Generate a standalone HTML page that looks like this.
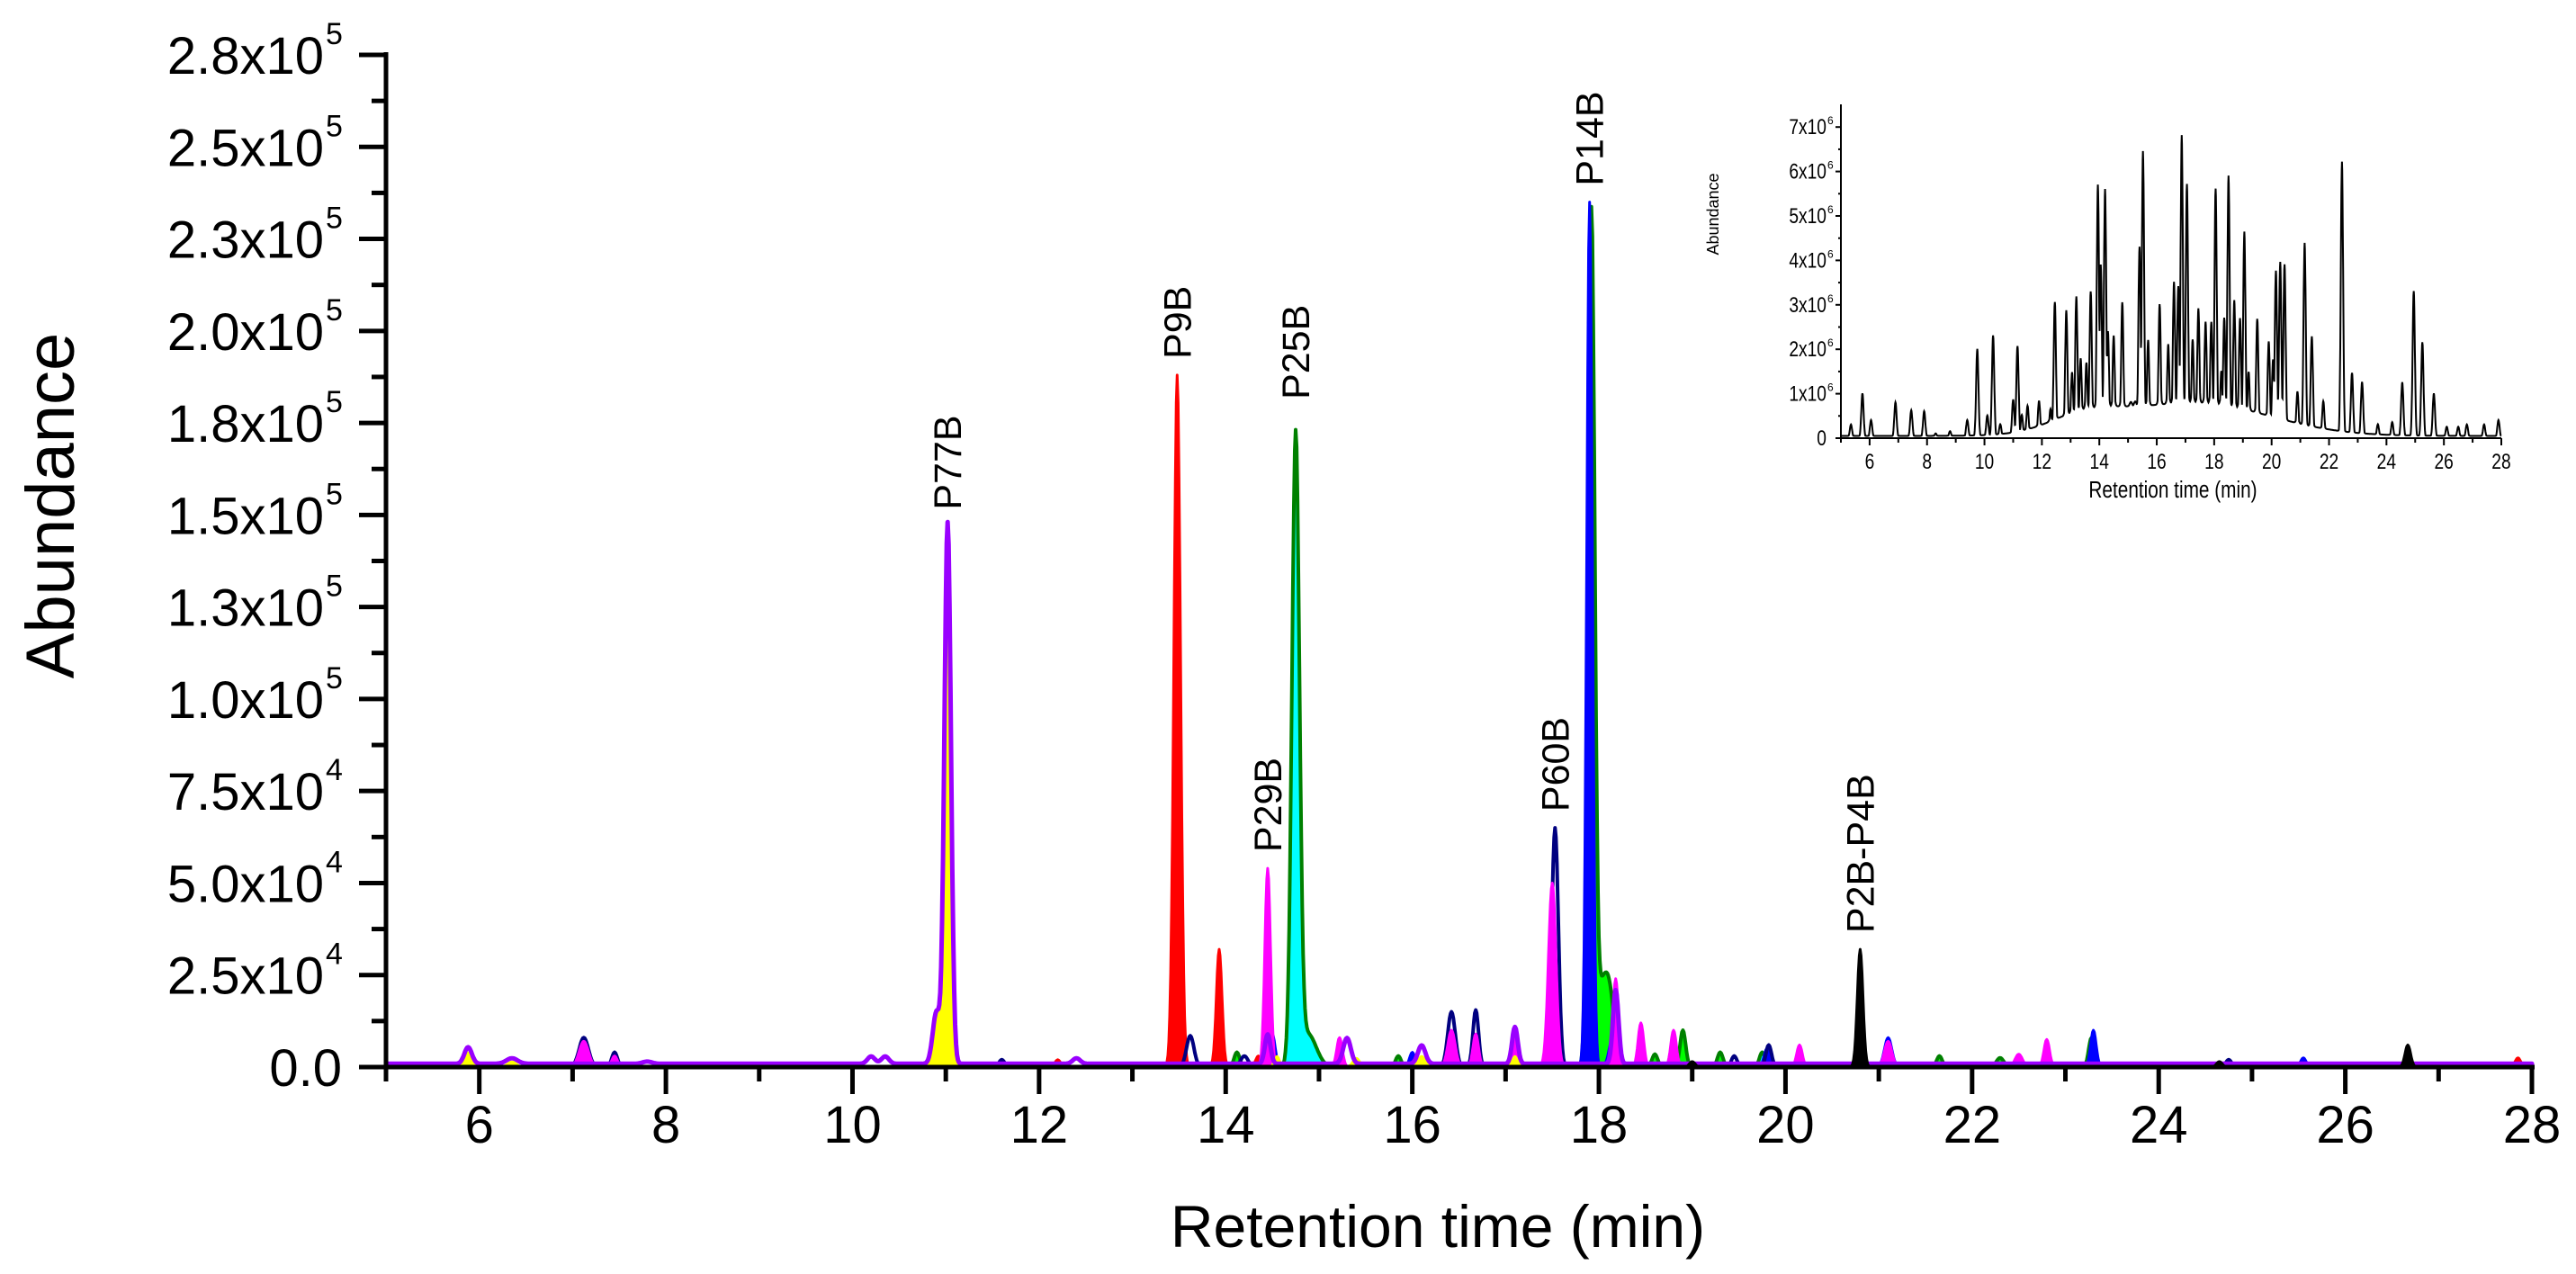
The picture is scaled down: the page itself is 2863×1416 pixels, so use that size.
<!DOCTYPE html>
<html><head><meta charset="utf-8"><style>
html,body{margin:0;padding:0;background:#fff;}
svg{display:block;font-family:"Liberation Sans",Arial,sans-serif;}
</style></head><body>
<svg id="chart" width="2863" height="1416" viewBox="0 0 2863 1416" xmlns="http://www.w3.org/2000/svg">
<g id="series"></g>
<g id="axes"></g>
<g id="labels"></g>
<g id="inset"></g>
<text transform="translate(82,562) rotate(-90)" text-anchor="middle" font-size="76">Abundance</text>
<text x="1598" y="1386" text-anchor="middle" font-size="66">Retention time (min)</text>
</svg>
<script>
// ---- main chart data ----
const xTicks = [6,8,10,12,14,16,18,20,22,24,26,28];
const yTickValues = [0,25000,50000,75000,100000,125000,150000,175000,200000,225000,250000,275000];
const yTickLabels = ["0.0","2.5x10|4","5.0x10|4","7.5x10|4","1.0x10|5","1.3x10|5","1.5x10|5","1.8x10|5","2.0x10|5","2.3x10|5","2.5x10|5","2.8x10|5"];
const seriesNames = ["red","cyan","green","blue","navy","magenta","yellow","purple","black"];
const purpleBaseline = 900;
const redPeaks = [[13.48,188000,.035],[13.93,32000,.03],[12.2,2000,.03],[27.85,2500,.03],[14.35,3000,.03]];
const cyanPeaks = [[14.75,170000,.04],[14.88,9000,.09],[19.75,4000,.03],[21.12,3000,.03]];
const greenPeaks = [[17.92,230000,.035],[18.03,20000,.06],[18.12,16000,.05],[18.9,10000,.03],[19.3,4000,.03],[21.65,3000,.03],[22.3,2500,.04],[23.28,8000,.03],[14.12,4000,.03],[15.85,3000,.03],[18.6,3500,.03]];
const bluePeaks = [[17.9,235000,.03],[21.1,8000,.04],[23.3,10000,.03],[16.0,4000,.03],[19.8,5000,.03],[25.55,2500,.03],[18.15,8000,.04],[22.8,6000,.03],[14.5,9000,.03]];
const navyPeaks = [[7.12,8000,.05],[7.45,4000,.03],[13.62,8500,.04],[16.42,15000,.04],[16.68,15500,.03],[17.53,65000,.035],[19.82,6000,.03],[24.75,2000,.03],[11.6,2000,.03],[19.45,3000,.03],[14.2,3000,.04]];
const magentaPeaks = [[7.12,7000,.05],[7.45,3000,.03],[14.45,54000,.03],[17.5,50000,.04],[16.42,10000,.04],[16.68,9000,.03],[18.18,24000,.03],[18.45,12000,.03],[18.8,10000,.03],[20.15,6000,.03],[21.1,7000,.04],[22.8,7500,.03],[22.5,3500,.04],[15.22,8000,.03],[17.1,10000,.03]];
const yellowPeaks = [[11.02,130000,.04],[10.9,12000,.05],[5.88,4000,.04],[6.35,1500,.05],[14.55,3000,.03],[16.1,3000,.04],[17.1,3000,.03],[21.5,1000,.04],[15.4,2500,.04]];
const purplePeaks = [[11.02,147000,.035],[10.9,14000,.04],[5.88,4500,.04],[6.35,1500,.06],[10.2,2000,.04],[10.35,2000,.04],[12.4,1500,.04],[14.45,8000,.03],[16.1,5000,.04],[17.1,10000,.03],[18.18,20000,.03],[15.3,7000,.04],[7.8,600,.05]];
const blackPeaks = [[20.8,32000,.03],[26.67,6000,.03],[24.65,1500,.03],[19.0,1500,.03]];
const labelNames = ["P77B","P9B","P29B","P25B","P60B","P14B","P2B-P4B"];
const labelTimes = [11.02,13.48,14.45,14.75,17.53,17.9,20.8];
const labelHeights = [147000,188000,54000,177000,65000,235000,32000];
// ---- inset data ----
const insetXTicks = [6,8,10,12,14,16,18,20,22,24,26,28];
const insetYTicks = [0,1,2,3,4,5,6,7];
const insetPeaks = [[5.35,.3],[5.75,1.0],[6.05,.4],[6.9,.8],[7.45,.62],[7.9,.6],[8.3,.1],[8.8,.15],[9.4,.4],[9.75,2.0],[10.1,.5],[10.3,2.3],[10.55,.3],[11.0,.85],[11.15,2.05],[11.3,.5],[11.5,.7],[11.9,.8],[12.3,.6],[12.45,3.0],[12.85,2.8],[13.05,1.4],[13.2,3.1],[13.35,1.7],[13.55,1.6],[13.7,3.2],[13.95,5.6],[14.05,3.8],[14.2,5.5],[14.3,2.3],[14.5,2.2],[14.8,2.95],[15.1,.65],[15.25,.7],[15.4,4.2],[15.52,6.35],[15.7,2.1],[16.1,2.9],[16.4,2.0],[16.6,3.4],[16.75,3.3],[16.87,6.7],[17.05,5.6],[17.25,2.1],[17.45,2.8],[17.7,2.5],[17.9,2.5],[18.05,5.5],[18.25,1.4],[18.35,2.6],[18.5,5.8],[18.7,3.0],[18.9,2.6],[19.05,4.55],[19.2,1.4],[19.5,2.6],[19.9,2.1],[20.05,1.7],[20.15,3.7],[20.3,3.9],[20.45,3.85],[20.9,1.0],[21.15,4.35],[21.4,2.25],[21.8,.8],[22.45,6.2],[22.8,1.45],[23.15,1.25],[23.7,.3],[24.2,.35],[24.55,1.25],[24.95,3.3],[25.25,2.15],[25.65,1.0],[26.1,.25],[26.5,.25],[26.8,.3],[27.4,.3],[27.9,.4]];
const insetBroad = [[17.3,0.75,2.6],[13.5,0.35,1.2]];

const NS = "http://www.w3.org/2000/svg";
function mk(tag, attrs, parent){const e=document.createElementNS(NS,tag);for(const k in attrs)e.setAttribute(k,attrs[k]);parent.appendChild(e);return e;}
const X0=429, X1=2814, Y0=1186, YT=61;
const xs = t => X0 + (t-5)/(28-5)*(X1-X0);
const ys = v => Y0 - v/275000*(Y0-YT);

const seriesData = {red:redPeaks,cyan:cyanPeaks,green:greenPeaks,blue:bluePeaks,navy:navyPeaks,magenta:magentaPeaks,yellow:yellowPeaks,purple:purplePeaks,black:blackPeaks};
const styles = {red:["#ff0000","#ff0000",3],cyan:["#00ffff","#008000",4],green:["#00ff00","#008000",4],blue:["#0000ff","#0000ff",3],navy:["none","#000080",4],magenta:["#ff00ff","#ff00ff",3],yellow:["#ffff00","#ffff00",2],purple:["none","#9900ff",5],black:["#000000","#000000",3]};
function val(peaks,t){let v=0;for(const p of peaks){const d=(t-p[0])/p[2];v+=p[1]*Math.exp(-0.5*d*d);}return v;}
const sg=document.getElementById('series');
for(const name of seriesNames){
  const peaks=seriesData[name];
  const base = name==="purple"?purpleBaseline:0;
  let d="M"+xs(5)+","+Y0;
  for(let i=0;i<=2300;i++){const t=5+i*0.01;d+=" L"+xs(t).toFixed(1)+","+ys(base+val(peaks,t)).toFixed(1);}
  d+=" L"+xs(28)+","+Y0+(name==="purple"?"":" Z");
  const st=styles[name];
  const p=mk('path',{d:d,fill:st[0],stroke:st[1],'stroke-width':st[2],'stroke-linejoin':'round'},sg);
  
  
}
// axes
const ax=document.getElementById('axes');
mk('line',{x1:X0,y1:YT-3,x2:X0,y2:Y0+3,stroke:'#000','stroke-width':5},ax);
mk('line',{x1:X0-3,y1:Y0,x2:X1+3,y2:Y0,stroke:'#000','stroke-width':5},ax);
yTickValues.forEach((v,i)=>{
  const y=ys(v);
  mk('line',{x1:X0-30,y1:y,x2:X0,y2:y,stroke:'#000','stroke-width':5},ax);
  if(i<yTickValues.length-1){const ym=ys(v+12500);mk('line',{x1:X0-16,y1:ym,x2:X0,y2:ym,stroke:'#000','stroke-width':5},ax);}
  const parts=yTickLabels[i].split('|');
  const t=mk('text',{x:parts.length>1?360:380,y:y+21,'text-anchor':'end','font-size':58},ax);
  t.textContent=parts[0];
  
  
  if(parts.length>1){const s=mk('text',{x:362,y:y-12,'font-size':34},ax);s.textContent=parts[1];}
});
for(let m=5;m<=28;m++){
  const x=xs(m);
  const major = xTicks.indexOf(m)>=0;
  mk('line',{x1:x,y1:Y0,x2:x,y2:Y0+(major?30:16),stroke:'#000','stroke-width':5},ax);
}
xTicks.forEach(v=>{
  const t=mk('text',{x:xs(v),y:1270,'text-anchor':'middle','font-size':58},ax);
  t.textContent=v;
  
  
});
// peak labels
const lg=document.getElementById('labels');
labelNames.forEach((n,i)=>{
  const x=xs(labelTimes[i])+15, y=ys(labelHeights[i])-18;
  const t=mk('text',{transform:`translate(${x},${y}) rotate(-90)`,'font-size':43},lg);
  t.textContent=n;
  
  
});
// inset
const ig=document.getElementById('inset');
const IX0=2046, IX1=2780, IY0=487, IYT=116;
const ixs=t=>IX0+(t-5)/23*(IX1-IX0);
const iys=v=>IY0-v*49.4;
let d="";
for(let i=0;i<=2300;i++){const t=5+i*0.01;let pk=0;for(const p of insetPeaks){const q=(t-p[0])/0.04;pk=Math.max(pk,p[1]*Math.exp(-0.5*q*q));}let br=0.05;for(const b of insetBroad){const q=(t-b[0])/b[2];br+=b[1]*Math.exp(-0.5*q*q);}const v=Math.max(pk,br)+0.15*Math.min(pk,br);d+=(i?" L":"M")+ixs(t).toFixed(1)+","+iys(v).toFixed(1);}
const ip=mk('path',{d:d,fill:'none',stroke:'#000','stroke-width':2},ig);


mk('line',{x1:IX0,y1:IYT,x2:IX0,y2:IY0,stroke:'#000','stroke-width':2},ig);
mk('line',{x1:IX0,y1:IY0,x2:IX1,y2:IY0,stroke:'#000','stroke-width':2},ig);
insetYTicks.forEach(v=>{
  const y=iys(v);
  mk('line',{x1:IX0-6,y1:y,x2:IX0,y2:y,stroke:'#000','stroke-width':2},ig);
  const ym=iys(v+0.5); if(v<7) mk('line',{x1:IX0-3,y1:ym,x2:IX0,y2:ym,stroke:'#000','stroke-width':2},ig);
  const t=mk('text',{x:IX0-16,y:y+8,'text-anchor':'end','font-size':24,transform:`translate(${(IX0-16)*0.2},0) scale(0.8,1)`},ig);
  t.textContent=v===0?"0":v+"x10";
  
  
  if(v!==0){const s=mk('text',{x:IX0-15,y:y-3,'font-size':12},ig);s.textContent="6";}
});
for(let m=5;m<=28;m++){const x=ixs(m);mk('line',{x1:x,y1:IY0,x2:x,y2:IY0+(m%2===0?8:5),stroke:'#000','stroke-width':2},ig);}
insetXTicks.forEach(v=>{
  const x=ixs(v);
  const t=mk('text',{x:x,y:IY0+34,'text-anchor':'middle','font-size':24,transform:`translate(${x*0.2},0) scale(0.8,1)`},ig);
  t.textContent=v;
  
  
});
const it=mk('text',{x:2415,y:553,'text-anchor':'middle','font-size':26,transform:`translate(${2415*0.2},0) scale(0.8,1)`},ig);
it.textContent="Retention time (min)";


const iy=mk('text',{transform:'translate(1910,238) rotate(-90)','text-anchor':'middle','font-size':18},ig);
iy.textContent="Abundance";


</script>
</body></html>
